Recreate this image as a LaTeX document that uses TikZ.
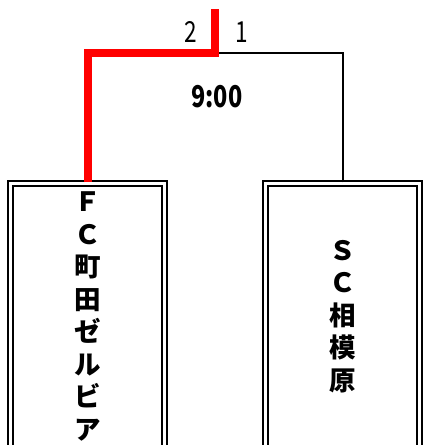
\documentclass[tikz,border=0pt]{standalone}
\usepackage{graphicx}
\usepackage{fontspec}
\setmainfont{Noto Sans CJK JP}
\newcommand{\narrow}[1]{\scalebox{0.78}[1]{#1}}
\tikzset{
  teambox/.style={draw, double, line width=2.2pt, double distance=2.8pt,
    minimum width=154pt, minimum height=266pt, align=center,
    font=\bfseries\fontsize{26.5}{32.5}\selectfont},
  winline/.style={red, line width=8pt},
  loseline/.style={black, line width=2pt},
  score/.style={font=\fontsize{29}{30}\selectfont},
}
\begin{document}
\begin{tikzpicture}[x=1pt, y=-1pt]
  \useasboundingbox (0,0) rectangle (423,445);
  \clip (0,0) rectangle (423,445);
  % teams
  \node[teambox] (machida) at (87.5,316.5) {Ｆ\\Ｃ\\町\\田\\ゼ\\ル\\ビ\\ア};
  \node[teambox] (sagami) at (342.75,316.5) {Ｓ\\Ｃ\\相\\模\\原};
  % match
  \coordinate (top) at (215,9);
  \coordinate (junction) at (215,52.5);
  \draw[loseline] (sagami.north) |- (junction);
  \draw[winline] (machida.north) |- (junction) -- (top);
  % scores
  \node[score] (score2) at (191,32) {\narrow{2}};
  \node[score] (score1) at (242,32) {\narrow{1}};
  \node[score, font=\bfseries\fontsize{30}{30}\selectfont] (time) at (217,97) {\narrow{9:00}};
\end{tikzpicture}
\end{document}
